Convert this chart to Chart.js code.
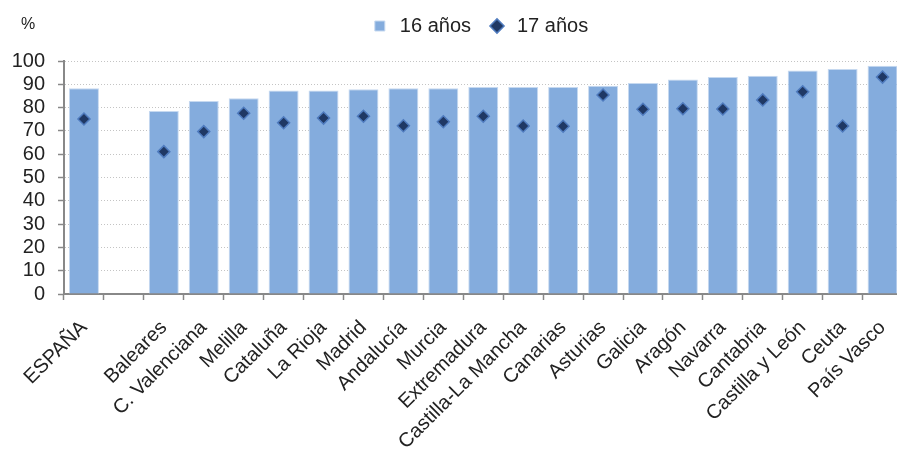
<!DOCTYPE html>
<html>
<head>
<meta charset="utf-8">
<script src="https://cdn.jsdelivr.net/npm/chart.js@4.4.1/dist/chart.umd.min.js"></script>
<style>
  html, body { margin: 0; padding: 0; background: #ffffff; }
  #wrap { width: 897px; height: 451px; overflow: hidden; position: relative; }
  canvas { display: block; }
</style>
</head>
<body>
<div id="wrap"><canvas id="c" width="910" height="451"></canvas></div>
<script>
const categories = ['ESPAÑA', '', 'Baleares', 'C. Valenciana', 'Melilla', 'Cataluña', 'La Rioja', 'Madrid', 'Andalucía', 'Murcia', 'Extremadura', 'Castilla-La Mancha', 'Canarias', 'Asturias', 'Galicia', 'Aragón', 'Navarra', 'Cantabria', 'Castilla y León', 'Ceuta', 'País Vasco'];
const values16 = [88.3, null, 78.5, 82.8, 84.0, 87.3, 87.3, 87.9, 88.3, 88.3, 88.8, 88.8, 88.8, 89.4, 90.6, 92.1, 93.1, 93.7, 95.9, 96.6, 98.0];
const values17 = [75.1, null, 61.1, 69.7, 77.6, 73.5, 75.5, 76.3, 72.2, 73.9, 76.3, 72.1, 72.0, 85.4, 79.3, 79.5, 79.4, 83.3, 86.8, 72.1, 93.1];
const seriesNames = ['16 años', '17 años'];
const yTicks = [0, 10, 20, 30, 40, 50, 60, 70, 80, 90, 100];
const unitLabel = '%';

const FONT = 'Liberation Sans, Arial, sans-serif';
const TXT = '#222222';

const unitPlugin = {
  id: 'unitLabel',
  afterInit(chart) {
    const legend = chart.legend;
    if (legend) {
      const origFit = legend.fit.bind(legend);
      legend.fit = function () {
        origFit();
        this.height = 61;
      };
    }
  },
  afterLayout(chart) {
    const legend = chart.legend;
    if (legend) {
      legend.left += 50;
    }
  },
  afterDraw(chart) {
    const ctx = chart.ctx;
    ctx.save();
    ctx.font = '16px ' + FONT;
    ctx.fillStyle = TXT;
    ctx.textAlign = 'left';
    ctx.textBaseline = 'middle';
    ctx.fillText(unitLabel, 21, 25);
    ctx.restore();
  }
};

new Chart(document.getElementById('c'), {
  type: 'bar',
  data: {
    labels: categories,
    datasets: [
      {
        type: 'bar',
        label: seriesNames[0],
        data: values16,
        backgroundColor: '#84ACDD',
        borderColor: '#C6D9F0',
        borderWidth: 1,
        barPercentage: 0.75,
        categoryPercentage: 1.0,
        pointStyle: 'rect',
        order: 2
      },
      {
        type: 'line',
        label: seriesNames[1],
        data: values17,
        showLine: false,
        pointStyle: 'rectRot',
        pointRadius: 6,
        pointHoverRadius: 6,
        backgroundColor: '#1F3864',
        borderColor: '#4F7BBE',
        borderWidth: 1.5,
        order: 1
      }
    ]
  },
  options: {
    responsive: false,
    animation: false,
    events: [],
    layout: { padding: { top: 0, right: 2, left: 0, bottom: 0 } },
    plugins: {
      legend: {
        display: true,
        position: 'top',
        align: 'center',
        labels: {
          usePointStyle: true,
          boxHeight: 10,
          font: { family: FONT, size: 20 },
          color: TXT,
          padding: 16,
          sort: (a, b) => a.datasetIndex - b.datasetIndex
        }
      },
      tooltip: { enabled: false }
    },
    scales: {
      x: {
        offset: true,
        grid: {
          display: true,
          drawOnChartArea: false,
          drawTicks: true,
          tickLength: 6,
          tickColor: '#888888',
          tickWidth: 1.5,
          offset: true
        },
        border: { display: true, color: '#888888', width: 2 },
        ticks: {
          autoSkip: false,
          maxRotation: 45,
          minRotation: 45,
          padding: 16,
          color: TXT,
          font: { family: FONT, size: 20 }
        },
        afterFit(scale) {
          scale.height = 157;
          scale.paddingLeft = 0;
          scale.paddingRight = 0;
        }
      },
      y: {
        min: 0,
        max: 100,
        afterBuildTicks(scale) { scale.ticks = yTicks.map(v => ({ value: v })); },
        grid: {
          display: true,
          color: '#C4C4C4',
          lineWidth: 1,
          drawTicks: true,
          tickLength: 6,
          tickColor: '#888888',
          tickWidth: 1.5,
          tickBorderDash: []
        },
        border: { display: true, color: '#888888', width: 2, dash: [1, 2] },
        ticks: {
          autoSkip: false,
          padding: 13,
          color: TXT,
          font: { family: FONT, size: 20 }
        },
        afterFit(scale) {
          scale.width = 64;
          scale.paddingTop = 0;
          scale.paddingBottom = 0;
        }
      }
    }
  },
  plugins: [unitPlugin]
});
</script>
</body>
</html>
